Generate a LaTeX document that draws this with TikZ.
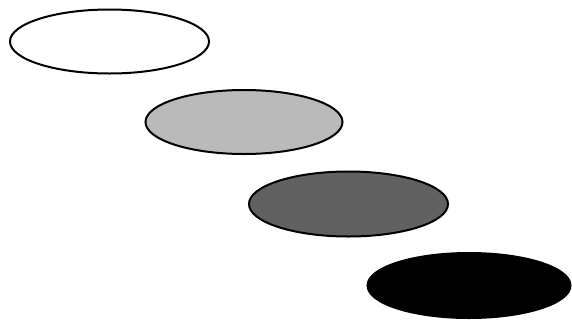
\documentclass[tikz,border=0pt]{standalone}
\begin{document}
\begin{tikzpicture}[x=1pt,y=-1pt,
  blob/.style={draw=black,line width=2pt}]
\useasboundingbox (0,0) rectangle (572,322);
\fill[white] (0,0) rectangle (572,322);
\path[blob,fill=white] (109.5,41.5) ellipse [x radius=99.5, y radius=32];
\path[blob,fill=black!27] (244,122) ellipse [x radius=98.5, y radius=32];
\path[blob,fill=black!62] (348.5,204) ellipse [x radius=99.5, y radius=32.5];
\path[blob,fill=black] (469,285.5) ellipse [x radius=101.5, y radius=32.5];
\end{tikzpicture}
\end{document}
